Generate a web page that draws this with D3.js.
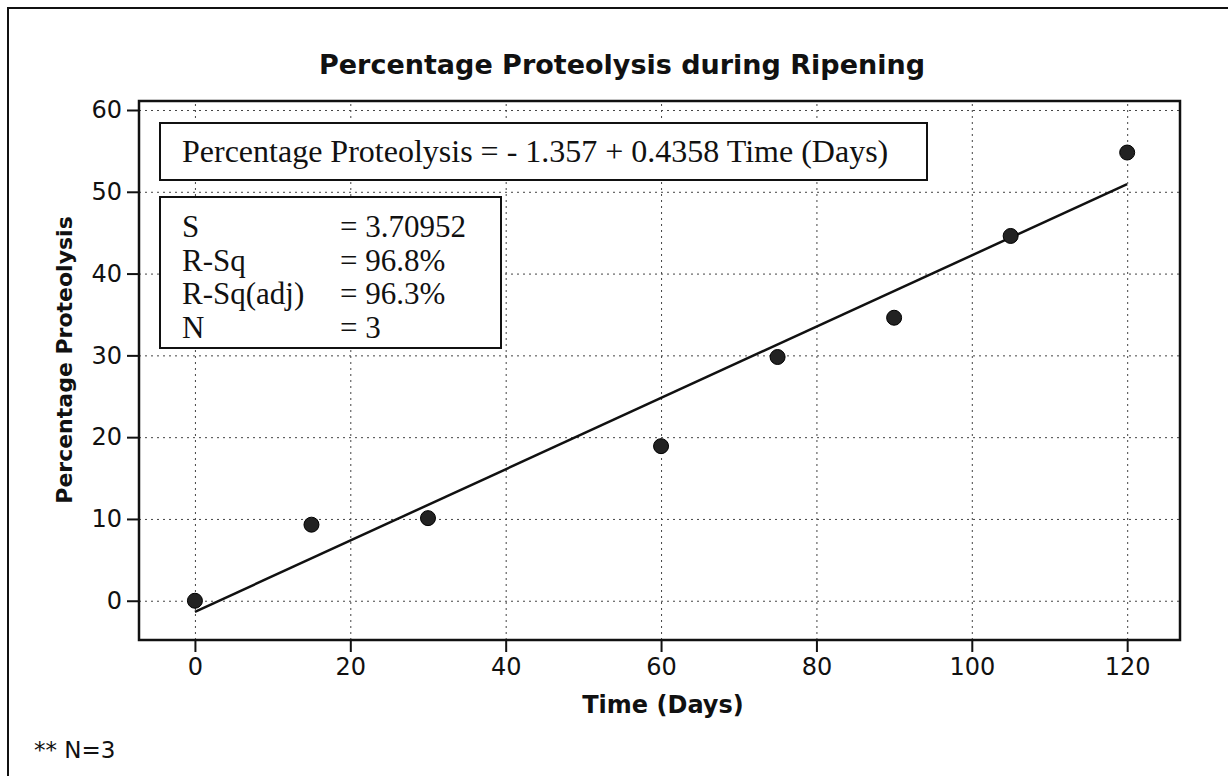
<!DOCTYPE html>
<html lang="en">
<head>
<meta charset="utf-8">
<!-- Load d3.js -->
<script src="https://d3js.org/d3.v7.min.js"></script>
<style>
  body { margin: 0; background: #fff; }
  svg { display: block; }
  .tick text { font-family: "DejaVu Sans", sans-serif; fill: #111; }
  .grid line { stroke: #444; stroke-width: 1; stroke-dasharray: 2,4; }
  .grid path { display: none; }
</style>
</head>
<body>
<div id="my_dataviz"></div>

<script>

// data
var days = [0, 15, 30, 60, 75, 90, 105, 120];
var proteolysis = [0.0, 9.3, 10.1, 18.9, 29.8, 34.6, 44.6, 54.8];

var xTicks = [0, 20, 40, 60, 80, 100, 120];
var yTicks = [0, 10, 20, 30, 40, 50, 60];

// fitted line: Percentage Proteolysis = -1.357 + 0.4358 Time
var fitIntercept = -1.357;
var fitSlope = 0.4358;
var fitRange = [0, 120];

var equationText = "Percentage Proteolysis = - 1.357 + 0.4358 Time (Days)";
var statLabels = ["S", "R-Sq", "R-Sq(adj)", "N"];
var statValues = ["= 3.70952", "= 96.8%", "= 96.3%", "= 3"];

var W = 1228, H = 776;
// plot area edges (don't call it "top", window.top is read only)
var pL = 139, pR = 1180, pT = 101, pB = 640;

var svg = d3.select("#my_dataviz")
  .append("svg")
  .attr("width", W)
  .attr("height", H);

// outer frame (runs off the page on the right and bottom)
svg.append("rect")
  .attr("x", 8).attr("y", 8)
  .attr("width", 1260).attr("height", 820)
  .attr("fill", "none")
  .attr("stroke", "#111")
  .attr("stroke-width", 2);

var x = d3.scaleLinear().domain([-7.2, 126.8]).range([pL, pR]);
var y = d3.scaleLinear().domain([-4.8, 61.1]).range([pB, pT]);

// dotted grid
svg.append("g")
  .attr("class", "grid")
  .attr("transform", "translate(0," + pB + ")")
  .call(d3.axisBottom(x).tickValues(xTicks).tickSize(-(pB - pT)).tickFormat(""));
svg.append("g")
  .attr("class", "grid")
  .attr("transform", "translate(" + pL + ",0)")
  .call(d3.axisLeft(y).tickValues(yTicks).tickSize(-(pR - pL)).tickFormat(""));

// axes
var xAxis = svg.append("g")
  .attr("transform", "translate(0," + pB + ")")
  .call(d3.axisBottom(x).tickValues(xTicks).tickSize(12).tickPadding(6));
var yAxis = svg.append("g")
  .attr("transform", "translate(" + pL + ",0)")
  .call(d3.axisLeft(y).tickValues(yTicks).tickSize(12).tickPadding(5));

[xAxis, yAxis].forEach(function(a) {
  a.select(".domain").remove();
  a.selectAll(".tick line").attr("stroke", "#111").attr("stroke-width", 2);
  a.selectAll(".tick text").style("font-size", "24px");
});

// plot border
svg.append("rect")
  .attr("x", pL).attr("y", pT)
  .attr("width", pR - pL).attr("height", pB - pT)
  .attr("fill", "none")
  .attr("stroke", "#111")
  .attr("stroke-width", 2.5);

// equation box
var eqBox = svg.append("g");
eqBox.append("rect")
  .attr("x", 160).attr("y", 123)
  .attr("width", 767).attr("height", 57)
  .attr("fill", "#fff")
  .attr("stroke", "#111")
  .attr("stroke-width", 2);
eqBox.append("text")
  .attr("x", 182).attr("y", 162)
  .style("font-family", "Liberation Serif, serif")
  .style("font-size", "32px")
  .attr("fill", "#111")
  .text(equationText);

// statistics box
var stBox = svg.append("g");
stBox.append("rect")
  .attr("x", 160).attr("y", 197)
  .attr("width", 341).attr("height", 151)
  .attr("fill", "#fff")
  .attr("stroke", "#111")
  .attr("stroke-width", 2);
stBox.selectAll(".lab")
  .data(statLabels)
  .enter().append("text")
  .attr("x", 182)
  .attr("y", function(d, i) { return 237 + i * 33.5; })
  .style("font-family", "Liberation Serif, serif")
  .style("font-size", "31px")
  .attr("fill", "#111")
  .text(function(d) { return d; });
stBox.selectAll(".val")
  .data(statValues)
  .enter().append("text")
  .attr("x", 340)
  .attr("y", function(d, i) { return 237 + i * 33.5; })
  .style("font-family", "Liberation Serif, serif")
  .style("font-size", "31px")
  .attr("fill", "#111")
  .text(function(d) { return d; });

// fitted regression line
svg.append("path")
  .datum(fitRange)
  .attr("d", d3.line()
    .x(function(d) { return x(d); })
    .y(function(d) { return y(fitIntercept + fitSlope * d); }))
  .attr("stroke", "#111")
  .attr("stroke-width", 2.5)
  .attr("fill", "none");

// observed points
svg.selectAll(".pt")
  .data(days)
  .enter().append("circle")
  .attr("cx", function(d) { return x(d); })
  .attr("cy", function(d, i) { return y(proteolysis[i]); })
  .attr("r", 7.5)
  .attr("fill", "#222")
  .attr("stroke", "#000")
  .attr("stroke-width", 1);

// titles
svg.append("text")
  .attr("x", 622).attr("y", 74)
  .attr("text-anchor", "middle")
  .style("font-family", "DejaVu Sans, sans-serif")
  .style("font-weight", "bold")
  .style("font-size", "27px")
  .attr("fill", "#111")
  .text("Percentage Proteolysis during Ripening");

svg.append("text")
  .attr("x", 663).attr("y", 713)
  .attr("text-anchor", "middle")
  .style("font-family", "DejaVu Sans, sans-serif")
  .style("font-weight", "bold")
  .style("font-size", "24px")
  .attr("fill", "#111")
  .text("Time (Days)");

svg.append("text")
  .attr("transform", "translate(72,360) rotate(-90)")
  .attr("text-anchor", "middle")
  .style("font-family", "DejaVu Sans, sans-serif")
  .style("font-weight", "bold")
  .style("font-size", "22px")
  .attr("fill", "#111")
  .text("Percentage Proteolysis");

svg.append("text")
  .attr("x", 34).attr("y", 758)
  .style("font-family", "DejaVu Sans, sans-serif")
  .style("font-size", "23px")
  .attr("fill", "#111")
  .text("** N=3");

</script>
</body>
</html>
